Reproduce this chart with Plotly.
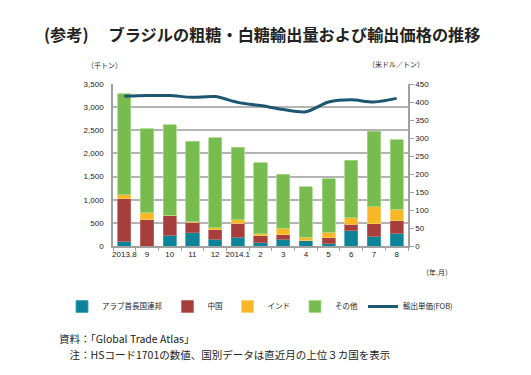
import plotly.graph_objects as go

months = ["2013.8", "9", "10", "11", "12", "2014.1", "2", "3", "4", "5", "6", "7", "8"]
uae = [100, 0, 235, 290, 145, 190, 70, 145, 110, 50, 325, 210, 275]
china = [925, 565, 420, 225, 210, 300, 150, 95, 0, 130, 140, 275, 275]
india = [80, 150, 5, 10, 35, 80, 40, 145, 80, 120, 150, 360, 245]
other = [2185, 1815, 1960, 1740, 1950, 1565, 1540, 1165, 1090, 1155, 1235, 1635, 1505]
price = [416, 418, 418, 413, 415, 399, 390, 379, 373, 400, 406, 400, 410]

FONT = "Noto Sans CJK JP"
OFF = 8  # default page body margin
W, H = 531 - OFF, 375 - OFF
# target plot area in screen pixels
SL, SR, ST, SB = 113, 408, 84, 246
L, R, T, B = SL - OFF, SR - OFF, ST - OFF, SB - OFF

def px(x):
    return (x - SL) / (SR - SL)

def py(y):
    return (SB - y) / (SB - ST)

fig = go.Figure()
series = [
    ("アラブ首長国連邦", uae, "#0B8399", "#3aa3b5"),
    ("中国", china, "#A63F3B", "#c06a66"),
    ("インド", india, "#F9B625", "#fbd06e"),
    ("その他", other, "#78BC50", "#a6d88a"),
]
for name, vals, col, edge in series:
    fig.add_trace(go.Bar(
        x=months, y=vals, name=name,
        marker=dict(color=col, line=dict(color=edge, width=0.8)),
        yaxis="y",
    ))
fig.add_trace(go.Scatter(
    x=months, y=price, name="輸出単価(FOB)", mode="lines",
    line=dict(color="#1D5670", width=3, shape="spline", smoothing=0.8),
    yaxis="y2",
))

tickfont = dict(size=8, family="Liberation Sans", color="#222")
fig.update_layout(
    width=W, height=H,
    margin=dict(l=L, r=W - R, t=T, b=H - B, pad=0, autoexpand=False),
    paper_bgcolor="white", plot_bgcolor="white",
    barmode="stack", bargap=0.42,
    font=dict(family=FONT, size=8, color="#222"),
    showlegend=True,
    legend=dict(
        orientation="h", x=px(62), y=py(292), xanchor="left", yanchor="top",
        font=dict(size=7.5, family=FONT, color="#222"),
        traceorder="normal", itemwidth=30, tracegroupgap=0,
        bgcolor="rgba(0,0,0,0)",
    ),
    xaxis=dict(
        type="category", showgrid=False, showline=True, linecolor="#A0A0A0", linewidth=1.5,
        ticks="outside", tickson="boundaries", ticklen=3, tickcolor="#A0A0A0",
        tickfont=tickfont, tickangle=0, automargin=False,
        range=[-0.5, 12.5],
    ),
    yaxis=dict(
        range=[0, 3500], dtick=500, tickformat=",d",
        showgrid=True, gridcolor="#B4B4B4", gridwidth=1.5,
        showline=True, linecolor="#A0A0A0", linewidth=1.5,
        ticks="", zeroline=False, automargin=False, ticklabelstandoff=6,
        tickfont=tickfont,
    ),
    yaxis2=dict(
        range=[0, 450], dtick=50, overlaying="y", side="right",
        showgrid=False, showline=True, linecolor="#A0A0A0", linewidth=1.5,
        ticks="outside", ticklen=4, tickcolor="#A0A0A0", zeroline=False,
        automargin=False, tickfont=tickfont,
    ),
)

ann = [
    dict(text="<b>(参考)　 ブラジルの粗糖・白糖輸出量および輸出価格の推移</b>", x=px(42), y=py(34),
         xanchor="left", yanchor="middle", font=dict(size=16.2, color="#222")),
    dict(text="（千トン）", x=px(104), y=py(65), xanchor="center", yanchor="middle",
         font=dict(size=7, color="#222")),
    dict(text="（米ドル／トン）", x=px(396), y=py(64), xanchor="center", yanchor="middle",
         font=dict(size=7, color="#222")),
    dict(text="（年.月）", x=px(437), y=py(272), xanchor="center", yanchor="middle",
         font=dict(size=7, color="#222")),
    dict(text="資料：「Global Trade Atlas」", x=px(57), y=py(338), xanchor="left", yanchor="middle",
         font=dict(size=10.5, color="#222")),
    dict(text="　注：HSコード1701の数値、国別データは直近月の上位３カ国を表示", x=px(57), y=py(354),
         xanchor="left", yanchor="middle", font=dict(size=10.5, color="#222")),
]
for a in ann:
    a.update(xref="paper", yref="paper", showarrow=False)
fig.update_layout(annotations=ann)

fig.write_html("out.html")
